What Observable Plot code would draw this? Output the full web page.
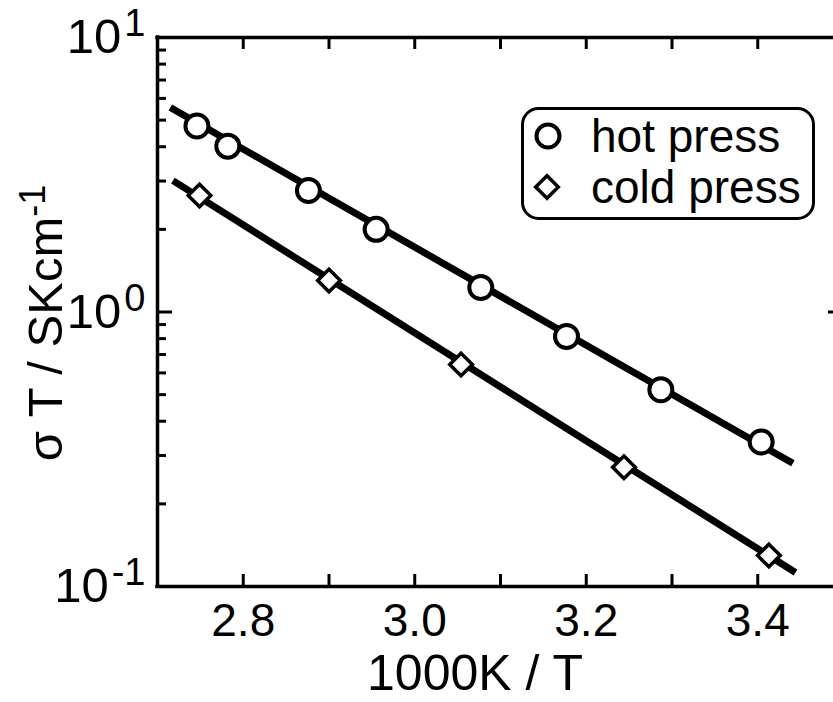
<!DOCTYPE html>
<html><head><meta charset="utf-8">
<script src="https://cdn.jsdelivr.net/npm/d3@7"></script>
<script src="https://cdn.jsdelivr.net/npm/@observablehq/plot@0.6"></script>
<style>html,body{margin:0;padding:0;background:#fff;overflow:hidden}</style>
</head><body><div id="chart"></div>
<script>
// data
const hotX = [2.746, 2.782, 2.876, 2.955, 3.077, 3.177, 3.287, 3.404];
const hotY = [4.76, 4.02, 2.77, 2.00, 1.228, 0.814, 0.521, 0.336];
const coldX = [2.749, 2.900, 3.054, 3.244, 3.413];
const coldY = [2.657, 1.302, 0.644, 0.272, 0.1297];
const hotFitX = [2.715, 3.441];
const hotFitY = [5.56, 0.281];
const coldFitX = [2.718, 3.444];
const coldFitY = [3.01, 0.1125];
const xTicks = [2.8, 3.0, 3.2, 3.4];
const xMinorTicks = [2.8, 2.9, 3.0, 3.1, 3.2, 3.3, 3.4];
const yMajor = [0.1, 1, 10];
const yTickLabels = ["10|-1", "10|0", "10|1"];
const yMinor = [0.2, 0.3, 0.4, 0.5, 0.6, 0.7, 0.8, 0.9, 2, 3, 4, 5, 6, 7, 8, 9];
const seriesNames = ["hot press", "cold press"];
const xLabel = "1000K / T";
const yLabelMain = "σ T / SKcm";
const yLabelSup = "-1";

const hot = hotX.map((x, i) => ({x, y: hotY[i]}));
const cold = coldX.map((x, i) => ({x, y: coldY[i]}));
const hotFit = hotFitX.map((x, i) => ({x, y: hotFitY[i]}));
const coldFit = coldFitX.map((x, i) => ({x, y: coldFitY[i]}));

const W = 833, H = 702, mT = 37, mB = 116, mL = 157, mR = 0;
const innerH = H - mT - mB, innerW = W - mL - mR;
const FONT = "'Liberation Sans', Arial, Helvetica, sans-serif";
const CIRCLE_R = 11.5, DIAMOND_R = 10.2;

const plot = Plot.plot({
  width: W, height: H,
  marginTop: mT, marginBottom: mB, marginLeft: mL, marginRight: mR,
  style: {fontFamily: FONT, background: "white", color: "black"},
  x: {type: "linear", domain: [2.7, 3.5], range: [157, 843]},
  y: {type: "log", domain: [0.1, 10]},
  marks: [
    Plot.line(hotFit, {x: "x", y: "y", stroke: "black", strokeWidth: 7, strokeLinecap: "butt"}),
    Plot.line(coldFit, {x: "x", y: "y", stroke: "black", strokeWidth: 7, strokeLinecap: "butt"}),
    Plot.tickX(xMinorTicks, {x: d => d, stroke: "black", strokeWidth: 3, insetTop: innerH - 12}),
    Plot.tickX(xMinorTicks, {x: d => d, stroke: "black", strokeWidth: 3, insetBottom: innerH - 12}),
    Plot.tickY(yMajor, {y: d => d, stroke: "black", strokeWidth: 3, insetRight: innerW - 15}),
    Plot.tickY(yMinor, {y: d => d, stroke: "black", strokeWidth: 3, insetRight: innerW - 9}),
    Plot.tickY(yMajor, {y: d => d, stroke: "black", strokeWidth: 3, insetLeft: 828 - mL}),
    Plot.ruleY([0.1, 10], {stroke: "black", strokeWidth: 3.5, strokeLinecap: "square"}),
    Plot.ruleX([2.7], {stroke: "black", strokeWidth: 3.5, strokeLinecap: "square"}),
    Plot.dot(hot, {x: "x", y: "y", symbol: "circle", r: CIRCLE_R, fill: "white", stroke: "black", strokeWidth: 4}),
    Plot.dot(cold, {x: "x", y: "y", symbol: "diamond2", r: DIAMOND_R, fill: "white", stroke: "black", strokeWidth: 3.5}),
    Plot.axisX({ticks: xTicks, tickSize: 0, tickPadding: 17, fontSize: 46, tickFormat: d3.format(".1f"), label: null}),
    Plot.axisY({ticks: yMajor, tickSize: 0, tickPadding: 12, fontSize: 49, tickFormat: d => yTickLabels[yMajor.indexOf(d)], label: null})
  ]
});
document.getElementById("chart").appendChild(plot);

const svg = d3.select(plot);
// superscripts on y tick labels
svg.selectAll('g[aria-label="y-axis tick label"] text').each(function() {
  const t = d3.select(this);
  const [base, exp] = t.text().split("|");
  t.text("");
  t.append("tspan").text(base);
  t.append("tspan").attr("font-size", 38).attr("dy", -17).attr("dx", 3).text(exp);
});

// axis titles
svg.append("text").attr("x", 475).attr("y", 690).attr("text-anchor", "middle")
  .attr("font-family", FONT).attr("font-size", 50).attr("fill", "black").text(xLabel);
const yl = svg.append("text").attr("transform", "translate(62,323) rotate(-90)").attr("text-anchor", "middle")
  .attr("font-family", FONT).attr("font-size", 49).attr("fill", "black");
yl.append("tspan").text(yLabelMain);
yl.append("tspan").attr("font-size", 36).attr("dy", -17).text(yLabelSup);

// legend
const lg = svg.append("g");
lg.append("rect").attr("x", 522.5).attr("y", 108.5).attr("width", 291).attr("height", 110).attr("rx", 16)
  .attr("fill", "white").attr("stroke", "black").attr("stroke-width", 3);
lg.append("path").attr("transform", "translate(548,136)")
  .attr("d", d3.symbol(d3.symbolCircle, Math.PI * CIRCLE_R * CIRCLE_R)())
  .attr("fill", "white").attr("stroke", "black").attr("stroke-width", 4);
lg.append("path").attr("transform", "translate(547,187)")
  .attr("d", d3.symbol(d3.symbolDiamond2, Math.PI * DIAMOND_R * DIAMOND_R)())
  .attr("fill", "white").attr("stroke", "black").attr("stroke-width", 3.5);
lg.selectAll("text.lgt").data(seriesNames).join("text").attr("class", "lgt")
  .attr("x", 591).attr("y", (d, i) => i === 0 ? 152 : 203).attr("text-anchor", "start")
  .attr("font-family", FONT).attr("font-size", 46).attr("fill", "black").text(d => d);
</script>
</body></html>
